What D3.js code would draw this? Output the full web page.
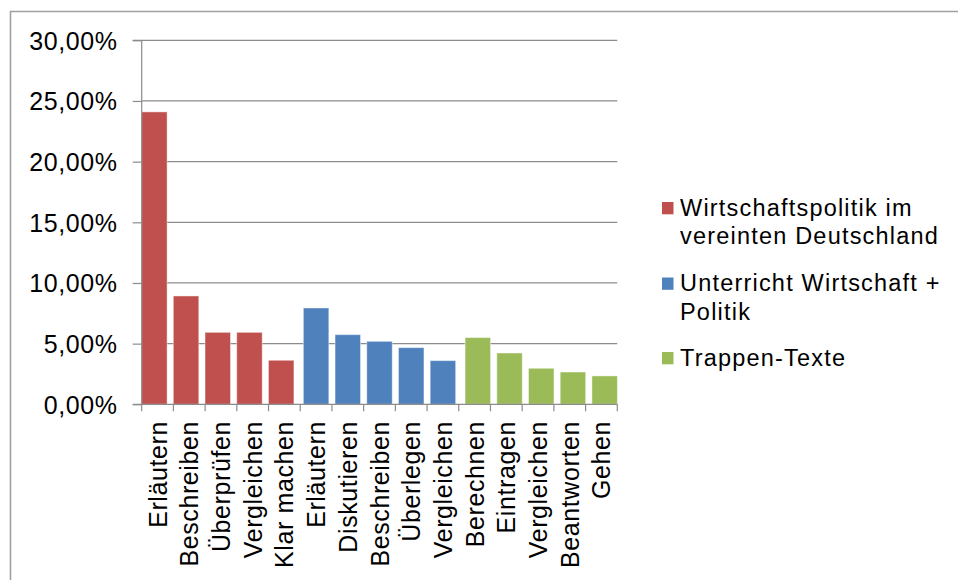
<!DOCTYPE html>
<html><head><meta charset="utf-8">
<script src="https://cdn.jsdelivr.net/npm/d3@7"></script>
<style>body{margin:0;background:#fff}svg{display:block}</style>
</head><body>
<script>
const categories = ["Erläutern","Beschreiben","Überprüfen","Vergleichen","Klar machen","Erläutern","Diskutieren","Beschreiben","Überlegen","Vergleichen","Berechnen","Eintragen","Vergleichen","Beantworten","Gehen"];
const seriesIndex = [0,0,0,0,0,1,1,1,1,1,2,2,2,2,2];
const values = [24.1, 8.93, 5.93, 5.93, 3.63, 7.94, 5.74, 5.19, 4.67, 3.6, 5.5, 4.23, 2.97, 2.66, 2.34];
const seriesLabels = [["Wirtschaftspolitik im","vereinten Deutschland"],["Unterricht Wirtschaft +","Politik"],["Trappen-Texte"]];
const seriesColors = ["#C0504D","#4F81BD","#9BBB59"];
const yTicks = [0,5,10,15,20,25,30];

(function(){
const W = 958, H = 580;
const pL = 141.7, pR = 617.3, pT = 40.3, pB = 404.3;
const font = "'Liberation Sans', Arial, sans-serif";

const svg = d3.select("body").append("svg").attr("width", W).attr("height", H);
svg.append("rect").attr("width", W).attr("height", H).attr("fill", "#fff");
svg.append("path").attr("d", `M10.5,${H+5}V11.5H${W+5}`).attr("fill","none").attr("stroke","#a0a0a0").attr("stroke-width",1.6);

const x = d3.scaleBand().domain(d3.range(categories.length)).range([pL, pR]).padding(0);
const y = d3.scaleLinear().domain([0, 30]).range([pB, pT]);
const seriesOffset = d3.scalePoint().domain([0,1,2]).range([-3.2, 3.2]);
const barW = 25.5;

svg.append("g").selectAll("line").data(yTicks.filter(t => t > 0)).join("line")
  .attr("x1", pL).attr("x2", pR).attr("y1", d => y(d)).attr("y2", d => y(d))
  .attr("stroke", "#8c8c8c").attr("stroke-width", 1.2);

svg.append("g").selectAll("rect").data(values).join("rect")
  .attr("x", (d, i) => x(i) + x.bandwidth()/2 + seriesOffset(seriesIndex[i]) - barW/2)
  .attr("width", barW)
  .attr("y", d => y(d)).attr("height", d => pB - y(d))
  .attr("fill", (d, i) => seriesColors[seriesIndex[i]])
  .attr("stroke", "rgba(255,255,255,0.45)").attr("stroke-width", 1);

const yAxis = d3.axisLeft(y).tickValues(yTicks).tickSize(9).tickPadding(15)
  .tickFormat(d => d3.format(".2f")(d).replace(".", ",") + "%");
const gy = svg.append("g").attr("transform", `translate(${pL},0)`).call(yAxis);
gy.select(".domain").attr("stroke", "#8c8c8c").attr("stroke-width", 1.2).attr("d", `M-9,${pB}H0V${pT}H-9`);
gy.selectAll(".tick line").attr("stroke", "#8c8c8c").attr("stroke-width", 1.2);
gy.selectAll(".tick text").attr("font-family", font).attr("font-size", 25).attr("fill", "#000")
  .attr("letter-spacing", "0.6px").attr("dy", "0.35em");

const gx = svg.append("g");
gx.append("line").attr("x1", pL).attr("x2", pR).attr("y1", pB).attr("y2", pB)
  .attr("stroke", "#8c8c8c").attr("stroke-width", 1.2);
const bounds = d3.range(categories.length + 1).map(i => i < categories.length ? x(i) : pR);
gx.selectAll("line.t").data(bounds).join("line").attr("class","t")
  .attr("x1", d => d).attr("x2", d => d).attr("y1", pB).attr("y2", pB + 7)
  .attr("stroke", "#8c8c8c").attr("stroke-width", 1.2);
gx.selectAll("text").data(categories).join("text")
  .attr("transform", (d, i) => `translate(${x(i) + x.bandwidth()/2},${421}) rotate(-90)`)
  .attr("dy", "0.36em").attr("text-anchor", "end")
  .attr("font-family", font).attr("font-size", 25).attr("letter-spacing", "0.6px").attr("fill", "#000")
  .text(d => d);

const legendY = [202, 277.5, 352];
const lg = svg.append("g");
seriesLabels.forEach((lines, s) => {
  lg.append("rect").attr("x", 662).attr("y", legendY[s]).attr("width", 11.5).attr("height", 12.3)
    .attr("fill", seriesColors[s]);
  lines.forEach((t, j) => {
    lg.append("text").attr("x", 680).attr("y", legendY[s] + 13.8 + j * 28.5)
      .attr("font-family", font).attr("font-size", 23.5).attr("letter-spacing", "1.2px").attr("fill", "#000")
      .text(t);
  });
});
})();
</script>
</body></html>
